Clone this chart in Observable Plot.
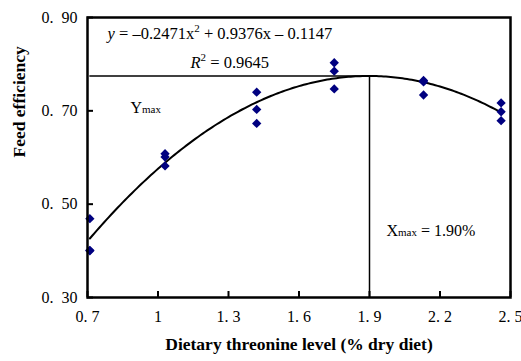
<!DOCTYPE html>
<html><head><meta charset="utf-8">
<script src="https://cdn.jsdelivr.net/npm/d3@7"></script>
<script src="https://cdn.jsdelivr.net/npm/@observablehq/plot@0.6"></script>
<style>body{margin:0;background:#fff} #chart svg{display:block}</style>
</head><body><div id="chart"></div>
<script>
// Dietary threonine levels (% dry diet) and three replicate feed-efficiency values
const doses = [0.71, 1.03, 1.42, 1.75, 2.13, 2.46];
const rep1 = [0.469, 0.608, 0.740, 0.803, 0.765, 0.717];
const rep2 = [0.401, 0.601, 0.703, 0.785, 0.762, 0.698];
const rep3 = [0.400, 0.582, 0.673, 0.747, 0.734, 0.679];
// Quadratic fit shown on the chart: y = a x^2 + b x + c
const coef = [-0.2471, 0.9376, -0.1147];
const rSquared = 0.9645;
const xMaxValue = 1.90;
const xTicks = [0.7, 1, 1.3, 1.6, 1.9, 2.2, 2.5];
const xTickLabels = ["0. 7", "1", "1. 3", "1. 6", "1. 9", "2. 2", "2. 5"];
const yTicks = [0.3, 0.5, 0.7, 0.9];
const yTickLabels = ["0. 30", "0. 50", "0. 70", "0. 90"];
const xTitle = "Dietary threonine level (% dry diet)";
const yTitle = "Feed efficiency";

const points = doses.flatMap((x, i) => [rep1[i], rep2[i], rep3[i]].map(y => ({x, y})));
const f = x => coef[0] * x * x + coef[1] * x + coef[2];
const curve = d3.range(doses[0], doses[doses.length - 1] + 1e-9, 0.01).concat([doses[doses.length - 1]]).map(x => ({x, y: f(x)}));
const yMax = f(-coef[1] / (2 * coef[0]));

const eqText = `y = –${Math.abs(coef[0])}x2 + ${coef[1]}x – ${Math.abs(coef[2])}`;
const r2Text = `R2 = ${rSquared}`;
const yMaxText = "Ymax";
const xMaxText = `Xmax = ${xMaxValue.toFixed(2)}%`;

const wide = s => s.replace(" ", "\u2002");
const xLab = new Map(xTicks.map((t, i) => [t, xTickLabels[i]]));
const yLab = new Map(yTicks.map((t, i) => [t, wide(yTickLabels[i])]));
const serif = "Liberation Serif";

const plot = Plot.plot({
  width: 521, height: 330,
  marginLeft: 87, marginRight: 11, marginTop: 17, marginBottom: 33,
  style: {fontFamily: serif, fontSize: "16px", background: "#fff", overflow: "visible"},
  x: {domain: [0.7, 2.5]},
  y: {domain: [0.3, 0.9]},
  marks: [
    Plot.axisX(xTicks, {tickSize: 0, tickPadding: 13, fontSize: 16, fontFamily: serif, tickFormat: d => xLab.get(d), label: null}),
    Plot.axisY(yTicks, {tickSize: 0, tickPadding: 10, fontSize: 16, fontFamily: serif, tickFormat: d => yLab.get(d), label: null}),
    Plot.tickX(xTicks, {x: d => d, insetTop: 274, stroke: "black", strokeWidth: 2}),
    Plot.tickY(yTicks, {y: d => d, insetRight: 417, stroke: "black", strokeWidth: 2}),
    Plot.ruleY([yMax], {x1: doses[0], x2: xMaxValue, stroke: "black", strokeWidth: 1.5}),
    Plot.ruleX([xMaxValue], {y1: 0.3, y2: yMax, stroke: "black", strokeWidth: 1.5}),
    Plot.line(curve, {x: "x", y: "y", stroke: "black", strokeWidth: 2}),
    Plot.dot(points, {x: "x", y: "y", symbol: "diamond2", r: 4.2, fill: "#000080", stroke: "none"}),
    Plot.frame({stroke: "black", strokeWidth: 2.5}),
    Plot.text([eqText], {text: d => d, frameAnchor: "top-left", dx: 20, dy: 21, textAnchor: "start", lineAnchor: "bottom", fontSize: 16.5, fontFamily: serif}),
    Plot.text([r2Text], {text: d => d, frameAnchor: "top-left", dx: 103, dy: 50, textAnchor: "start", lineAnchor: "bottom", fontSize: 16.5, fontFamily: serif}),
    Plot.text([yMaxText], {text: d => d, frameAnchor: "top-left", dx: 43, dy: 95, textAnchor: "start", lineAnchor: "bottom", fontSize: 16, fontFamily: serif}),
    Plot.text([xMaxText], {text: d => d, frameAnchor: "top-left", dx: 299, dy: 218, textAnchor: "start", lineAnchor: "bottom", fontSize: 16, fontFamily: serif}),
    Plot.text([xTitle], {text: d => d, frameAnchor: "bottom", dy: 52, fontWeight: "bold", fontSize: 17.5, fontFamily: serif}),
    Plot.text([yTitle], {text: d => d, frameAnchor: "left", dx: -68, rotate: -90, fontWeight: "bold", fontSize: 17.5, fontFamily: serif})
  ]
});
plot.setAttribute("height", 361);
plot.setAttribute("viewBox", "0 0 521 361");
plot.style.overflow = "visible";

const rebuild = {
  [eqText]: `<tspan font-style="italic">y</tspan><tspan> = –${Math.abs(coef[0])}x</tspan><tspan font-size="11" dy="-7">2</tspan><tspan dy="7"> + ${coef[1]}x – ${Math.abs(coef[2])}</tspan>`,
  [r2Text]: `<tspan font-style="italic">R</tspan><tspan font-size="11" dy="-7">2</tspan><tspan dy="7"> = ${rSquared}</tspan>`,
  [yMaxText]: `<tspan>Y</tspan><tspan font-size="11">max</tspan>`,
  [xMaxText]: `<tspan>X</tspan><tspan font-size="11">max</tspan><tspan> = ${xMaxValue.toFixed(2)}%</tspan>`
};
plot.querySelectorAll("text").forEach(t => {
  const s = t.textContent;
  if (rebuild[s]) t.innerHTML = rebuild[s];
});
document.getElementById("chart").appendChild(plot);
</script>
</body></html>
